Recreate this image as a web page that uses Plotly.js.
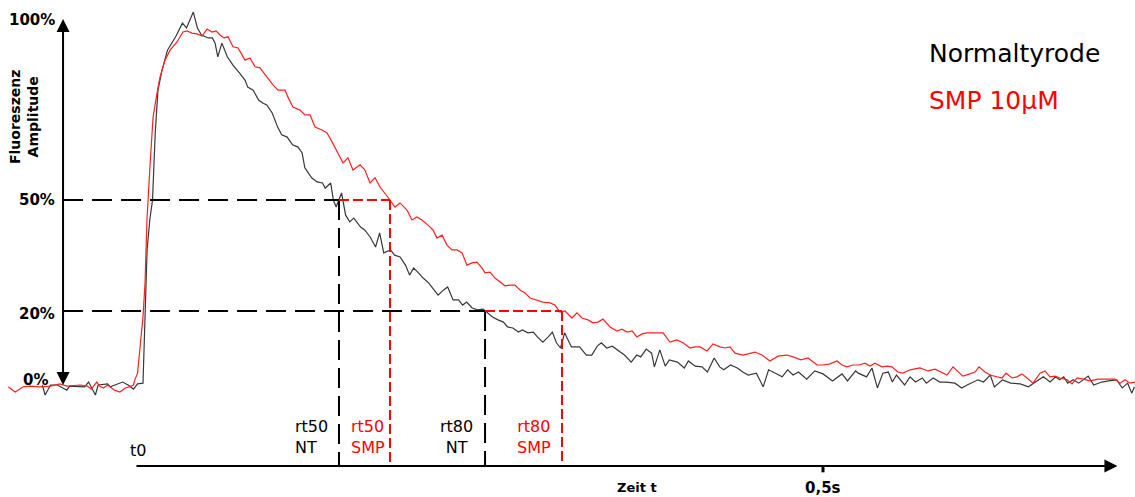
<!DOCTYPE html>
<html><head><meta charset="utf-8">
<script src="https://cdn.plot.ly/plotly-3.0.1.min.js"></script>
<style>html,body{margin:0;padding:0;background:#fff}</style>
</head><body><div id="chart" style="width:1135px;height:497px"></div>
<script>
// Series names (shown as coloured text legend)
const seriesNames = ['Normaltyrode', 'SMP 10µM'];

// Normaltyrode: time (ms, t0 = 0) and fluorescence amplitude (%)
const tNT = [-74,-72,-68,-63,-59,-56,-54,-48,-43,-40,-38,-35,-33,-26,-24,-21,-15,-11,-7,-4,
0,3,5,7,9,11,14,18,24,29,32,37,40,43,48,51,53,55,58,62,
66,71,75,77,81,85,88,91,95,99,102,106,110,114,117,119,124,128,132,134,
138,140,142,146,149,152,155,160,163,167,171,174,177,182,185,189,193,196,199,202,
206,210,213,217,221,224,228,232,235,238,242,246,250,253,257,261,265,268,272,276,
279,283,287,290,294,298,301,304,307,310,315,321,326,330,334,337,341,345,349,354,
359,363,366,370,374,376,380,384,387,393,398,401,406,411,415,420,424,427,432,437,
441,445,451,456,460,465,470,474,478,482,488,494,500,507,514,518,524,526,529,532,
536,540,544,548,551,554,560,564,568,573,576,581,586,591,597,602,606,610,614,618,
623,626,632,638,645,651,656,662,667,671,674,677,680,684,688,691,695,699,705,710,
716,720,724,727,729];
const vNT = [0,-2.7,0,0,-0.8,-1.4,-0.3,-0.5,-0.5,0.8,-0.5,-2.7,0,0.3,-0.5,0,0.8,0,-1.1,0.3,
0.5,36.5,44.6,50.0,68.1,79.7,85.1,90.5,94.1,97.8,96.5,100.8,96.5,94.6,93.8,93.8,92.4,88.7,92.4,88.7,
86.5,84.3,82.4,80.5,79.7,77.0,76.2,75.7,73.5,69.7,67.6,67.0,64.9,64.3,62.7,58.7,56.0,54.9,54.6,53.2,
54.6,50.0,48.1,51.9,45.9,44.1,45.1,42.7,41.9,40.0,37.3,41.1,35.7,36.5,35.1,34.6,32.4,29.7,31.6,30.5,
28.9,27.6,26.2,24.3,25.7,26.5,23.0,23.0,21.6,22.4,20.8,20.3,20.5,19.5,18.4,17.6,17.0,15.7,15.4,14.3,
14.9,14.1,14.3,13.0,11.6,13.0,14.3,11.4,10.0,14.1,10.3,10.3,8.1,8.1,10.5,11.4,10.0,10.5,9.5,8.1,
6.2,8.1,7.6,9.7,8.6,4.9,9.5,5.1,6.8,6.2,4.6,6.5,5.1,4.9,3.5,7.3,4.9,4.1,5.4,4.6,
3.5,2.7,3.2,-0.5,4.1,3.2,2.2,4.1,2.7,3.5,1.6,3.8,3.0,1.1,3.0,1.1,3.8,3.2,2.7,2.2,
4.6,-0.8,3.2,3.5,0.8,2.7,0,2.2,0.8,1.9,0.5,1.9,0.8,0.8,0.5,-0.8,0,0.8,1.4,0.8,
2.7,-0.5,1.4,0.5,0.3,-0.5,0.8,2.2,0.8,2.2,1.4,2.2,0.5,1.4,0.5,1.4,2.4,0,0.8,1.1,
1.4,-0.8,0.5,-2.2,-0.5];

// SMP 10µM: time (ms) and fluorescence amplitude (%)
const tSMP = [-99,-94,-88,-83,-76,-68,-61,-56,-46,-41,-38,-34,-32,-29,-26,-21,-17,-13,-10,-7,
-6,-4,-2,0,1.5,2.2,2.9,5.1,7.4,10.3,12.5,16.2,19.9,25.0,29.4,32.4,36.0,39.7,43.4,47.1,
50.7,53.7,56.6,59.6,62.5,66.2,69.9,75.0,78.7,82.4,86.0,91.2,95.6,99.3,104.4,106.6,110.3,115.4,119.1,122.8,
126.5,131.6,135.3,139.0,143.4,147.1,150.7,154.4,159.6,163.2,166.9,170.6,174.3,177.9,181.6,185.3,189.0,194.1,197.8,201.5,
205.1,209.6,213.2,216.2,219.9,223.5,227.2,230.9,234.6,238.2,241.9,245.6,249.3,251.5,255.1,258.8,262.5,266.2,269.9,273.5,
277.2,280.9,284.6,289.7,294.1,299.3,302.9,306.6,310.3,315.4,319.1,322.8,327.2,330.9,334.6,338.2,343.4,348.5,352.2,355.9,
359.6,363.2,366.9,370.6,375.0,382.4,387.5,392.6,397.1,402.2,405.9,409.6,414.7,419.1,424.3,427.9,431.6,435.3,441.2,446.3,
450.0,455.1,461.0,466.9,473.5,477.9,483.8,489.0,495.6,500.0,505.1,510.3,514.0,517.6,522.1,526.5,530.9,534.6,538.2,543.4,
547.1,550.7,555.1,558.8,564.0,571.3,577.2,582.4,587.5,591.2,595.6,599.3,602.9,608.1,611.8,614.7,619.1,622.8,627.9,631.6,
634.6,639.0,642.6,646.3,650.0,654.4,659.6,663.2,666.9,670.6,674.3,679.4,683.1,686.8,691.2,696.3,702.2,708.8,714.7,718.4,
722.1,725.7,729.4];
const vSMP = [-0.5,-1.9,-0.5,-0.3,-0.5,-0.3,0.3,-0.3,0,-0.3,-1.1,0.8,-0.3,-0.8,0,-1.4,-1.9,-0.8,-0.5,0,
1.4,3.2,10.8,18.4,27.6,36.5,44.6,58.9,72.4,78.9,83.2,87.8,90.5,92.7,95.4,95.7,95.1,94.9,94.3,96.2,
95.4,95.7,94.6,93.8,94.1,91.4,91.1,87.8,88.4,86.0,85.7,83.2,81.1,79.7,79.7,77.8,75.1,74.3,73.0,73.0,
69.7,68.9,68.1,65.7,62.7,60.0,61.4,58.1,59.5,58.1,54.6,56.0,53.5,51.9,50.0,48.1,49.2,47.3,44.6,45.4,
44.6,43.2,41.9,39.7,40.5,37.8,36.5,36.5,35.7,32.4,33.0,33.2,31.6,30.3,30.5,28.9,27.8,26.8,27.0,27.0,
25.7,24.9,23.5,23.0,22.4,22.2,21.6,19.7,20.0,18.1,19.5,18.1,17.6,16.8,17.0,17.8,15.7,14.6,15.1,14.3,
14.6,13.0,13.8,14.1,14.1,14.1,11.6,12.2,11.4,10.0,10.3,10.3,9.2,11.1,10.3,10.0,10.3,8.6,8.1,8.6,
8.9,8.1,6.5,7.8,8.1,7.6,6.8,7.3,5.4,5.4,5.7,6.5,5.4,4.9,5.4,5.4,5.9,5.1,5.9,4.9,
5.1,4.9,3.5,3.2,4.1,4.6,3.8,4.3,3.5,2.7,4.9,3.5,2.4,3.0,3.5,4.9,3.5,2.7,2.2,1.9,
3.2,1.9,2.2,3.0,1.9,0.5,3.2,3.8,2.2,2.4,1.9,1.4,0.3,1.9,1.6,1.1,1.6,1.6,1.6,0.5,
1.4,0.5,0.8];

// Relaxation levels (%) and relaxation times (ms): [rt50, rt80]
const levels = [50, 20];
const rtNT = [144.1, 251.5];
const rtSMP = [181.6, 308.1];
const rtLabelsNT = ['rt50<br>NT', 'rt80<br>NT'];
const rtLabelsSMP = ['rt50<br>SMP', 'rt80<br>SMP'];

// Axis ticks
const yTickVals = [100, 50, 20, 0];
const yTickText = ['100%', '50%', '20%', '0%'];
const xTickVals = [500];
const xTickText = ['0,5s'];
const xStartLabel = 't0';
const xTitle = 'Zeit t';
const yTitle = 'Fluoreszenz<br>Amplitude';

// ---- layout constants ----
const X_RANGE = [-105.15, 729.41];
const Y_RANGE = [-30.27, 104.05];
const Y_AXIS_X = -58.8;      // position of the amplitude arrow (ms)
const Y_AXIS_TOP = 99.3;
const T_AXIS_Y = -21.9;      // position of the time arrow (%)
const T_AXIS_START = -5.9, T_AXIS_END = 716.5;
const BLACK = '#000000', RED = '#ff0000';
const FONT = 'DejaVu Sans, Arial, sans-serif';

const traces = [
  {x: tNT, y: vNT, mode: 'lines', name: seriesNames[0], line: {color: '#383838', width: 1.2}},
  {x: tSMP, y: vSMP, mode: 'lines', name: seriesNames[1], line: {color: '#ff2020', width: 1.2}}
];

const shapes = [];
levels.forEach((lv, i) => {
  shapes.push({type: 'line', x0: Y_AXIS_X, x1: rtNT[i], y0: lv, y1: lv, line: {color: BLACK, width: 2, dash: '20px,9px'}});
  shapes.push({type: 'line', x0: rtNT[i], x1: rtNT[i], y0: lv, y1: T_AXIS_Y, line: {color: BLACK, width: 2, dash: '20px,8px'}});
});
levels.forEach((lv, i) => {
  shapes.push({type: 'line', x0: rtNT[i], x1: rtSMP[i], y0: lv, y1: lv, line: {color: RED, width: 2, dash: '10px,4px'}});
  shapes.push({type: 'line', x0: rtSMP[i], x1: rtSMP[i], y0: lv, y1: T_AXIS_Y, line: {color: RED, width: 2, dash: '10px,4px'}});
});
xTickVals.forEach(v => {
  shapes.push({type: 'line', x0: v, x1: v, y0: T_AXIS_Y, y1: T_AXIS_Y - 1.7, line: {color: BLACK, width: 3}});
});

const annotations = [];
// amplitude axis (double arrow)
annotations.push({x: Y_AXIS_X, y: 0, ax: Y_AXIS_X, ay: Y_AXIS_TOP, xref: 'x', yref: 'y', axref: 'x', ayref: 'y',
  text: '', showarrow: true, arrowhead: 2, startarrowhead: 2, arrowside: 'end+start', arrowsize: 1.3, startarrowsize: 1.3, arrowwidth: 2, arrowcolor: BLACK, standoff: 0, startstandoff: 0});
// time axis arrow
annotations.push({x: T_AXIS_END, y: T_AXIS_Y, ax: T_AXIS_START, ay: T_AXIS_Y, xref: 'x', yref: 'y', axref: 'x', ayref: 'y',
  text: '', showarrow: true, arrowhead: 2, arrowsize: 1.3, arrowwidth: 2, arrowcolor: BLACK, standoff: 0});
// y tick labels
const yShift = {100: -5, 50: 0, 20: -3, 0: 5};
const xShift = {100: 0, 50: 0, 20: 0, 0: -7};
yTickVals.forEach((v, i) => {
  annotations.push({x: Y_AXIS_X, y: v, xref: 'x', yref: 'y', text: yTickText[i], showarrow: false,
    xanchor: 'right', yanchor: 'middle', xshift: -6 + xShift[v], yshift: yShift[v],
    font: {family: FONT, size: 15, color: BLACK, weight: 'bold'}});
});
// y title
annotations.push({x: 24 / 1135, y: 1 - 117 / 497, xref: 'paper', yref: 'paper', text: yTitle, showarrow: false,
  xanchor: 'center', yanchor: 'middle', textangle: -90, align: 'center',
  font: {family: FONT, size: 14, color: BLACK, weight: 'bold'}});
// x tick labels
xTickVals.forEach((v, i) => {
  annotations.push({x: v, y: 1 - 488 / 497, xref: 'x', yref: 'paper', text: xTickText[i], showarrow: false,
    xanchor: 'center', yanchor: 'middle', font: {family: FONT, size: 15, color: BLACK, weight: 'bold'}});
});
annotations.push({x: 637 / 1135, y: 1 - 487 / 497, xref: 'paper', yref: 'paper', text: xTitle, showarrow: false,
  xanchor: 'center', yanchor: 'middle', font: {family: FONT, size: 13, color: BLACK, weight: 'bold'}});
annotations.push({x: 138 / 1135, y: 1 - 450 / 497, xref: 'paper', yref: 'paper', text: xStartLabel, showarrow: false,
  xanchor: 'center', yanchor: 'middle', font: {family: FONT, size: 16, color: BLACK}});
// rt labels
const gapNT = [9, 10], gapSMP = [3, 9];
const alignNT = ['left', 'center'], alignSMP = ['left', 'center'];
levels.forEach((lv, i) => {
  annotations.push({x: rtNT[i], y: 1 - 437 / 497, xref: 'x', yref: 'paper', text: rtLabelsNT[i], showarrow: false,
    xanchor: 'right', yanchor: 'middle', xshift: -gapNT[i], align: alignNT[i], font: {family: FONT, size: 16, color: BLACK}});
  annotations.push({x: rtSMP[i], y: 1 - 437 / 497, xref: 'x', yref: 'paper', text: rtLabelsSMP[i], showarrow: false,
    xanchor: 'right', yanchor: 'middle', xshift: -gapSMP[i], align: alignSMP[i], font: {family: FONT, size: 16, color: RED}});
});
// text legend
const legendColors = [BLACK, RED];
const legendY = [53, 100];
seriesNames.forEach((n, i) => {
  annotations.push({x: 927 / 1135, y: 1 - legendY[i] / 497, xref: 'paper', yref: 'paper', text: n, showarrow: false,
    xanchor: 'left', yanchor: 'middle', font: {family: FONT, size: 25, color: legendColors[i]}});
});

const layout = {
  width: 1135, height: 497,
  margin: {l: 0, r: 0, t: 0, b: 0},
  paper_bgcolor: '#ffffff', plot_bgcolor: '#ffffff',
  showlegend: false,
  xaxis: {range: X_RANGE, visible: false, fixedrange: true},
  yaxis: {range: Y_RANGE, visible: false, fixedrange: true},
  shapes: shapes,
  annotations: annotations
};

Plotly.newPlot('chart', traces, layout, {displayModeBar: false, staticPlot: true});
</script>
</body></html>
